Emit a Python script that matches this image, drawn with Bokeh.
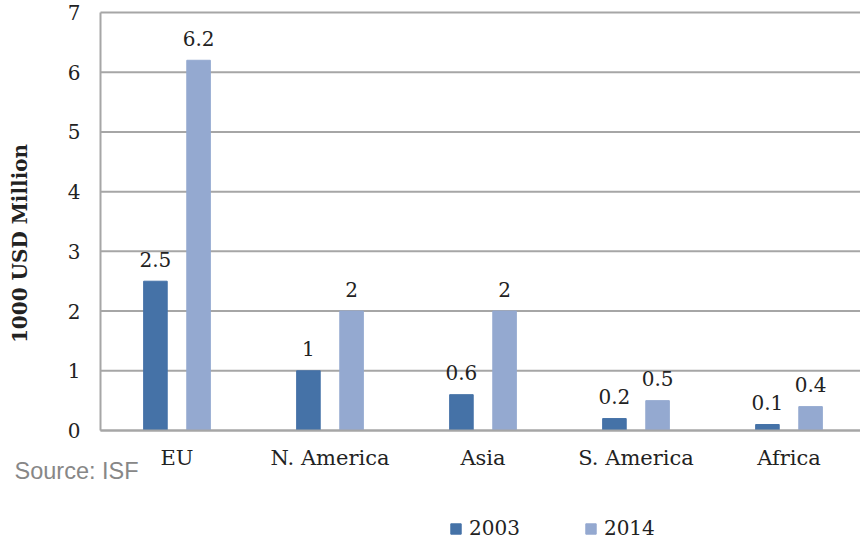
import math
from bokeh.plotting import figure
from bokeh.models import (Range1d, FixedTicker, Legend, LegendItem, Label,
                          ColumnDataSource, LinearAxis)
from bokeh.transform import dodge
from bokeh.embed import file_html
from bokeh.resources import INLINE
from bokeh.core.properties import value

categories = ["EU", "N. America", "Asia", "S. America", "Africa"]
series_names = ["2003", "2014"]
values_2003 = [2.5, 1, 0.6, 0.2, 0.1]
values_2014 = [6.2, 2, 2, 0.5, 0.4]
colors = ["#4572A7", "#94A9D0"]
y_ticks = [0, 1, 2, 3, 4, 5, 6, 7]
y_title = "1000 USD Million"
source_note = "Source: ISF"

SERIF = "DejaVu Serif"
FS = "20px"
TXT = "#222222"
GRID = "#A6A6A6"

W, H = 860, 541
PX_X = 153.0            # pixels per category
PX_Y = 418.0 / 7        # pixels per unit on y
X_END = (W - 100) / PX_X

xs = [i + 0.5 for i in range(len(categories))]
src = ColumnDataSource(dict(
    x=xs, v2003=values_2003, v2014=values_2014,
    l2003=[f"{v:g}" for v in values_2003],
    l2014=[f"{v:g}" for v in values_2014],
))

p = figure(width=W, height=H, output_backend="svg", toolbar_location=None,
           x_axis_type=None, y_axis_type=None,
           x_range=Range1d(-100 / PX_X, X_END),
           y_range=Range1d(-(H - 430) / PX_Y, 7 + 12 / PX_Y),
           min_border=0)
p.outline_line_color = None
p.background_fill_color = "white"
p.border_fill_color = "white"
p.grid.visible = False

# horizontal grid lines, limited to the plot area (x from 0 to the right edge)
p.segment(x0=0, x1=X_END, y0=y_ticks, y1=y_ticks,
          line_color=GRID, line_width=2)

off = 0.141
bw = 0.154
r1 = p.vbar(x=dodge("x", -off), top="v2003", width=bw, source=src, color=colors[0])
r2 = p.vbar(x=dodge("x", off), top="v2014", width=bw, source=src, color=colors[1])

p.text(x=dodge("x", -off), y="v2003", text="l2003", source=src,
       text_align="center", text_baseline="alphabetic", y_offset=-22,
       text_font=value(SERIF), text_font_size=FS, text_color=TXT)
p.text(x=dodge("x", off), y="v2014", text="l2014", source=src,
       text_align="center", text_baseline="alphabetic", y_offset=-22,
       text_font=value(SERIF), text_font_size=FS, text_color=TXT)

# axes fixed at the data origin
yaxis = LinearAxis(fixed_location=0, bounds=(0, 7), ticker=FixedTicker(ticks=y_ticks))
xaxis = LinearAxis(fixed_location=0, bounds=(0, X_END), ticker=FixedTicker(ticks=xs),
                   major_label_overrides={x: c for x, c in zip(xs, categories)})
for ax in (xaxis, yaxis):
    ax.major_tick_in = 0
    ax.major_tick_out = 0
    ax.minor_tick_in = 0
    ax.minor_tick_out = 0
    ax.major_tick_line_color = None
    ax.minor_tick_line_color = None
    ax.axis_line_color = GRID
    ax.axis_line_width = 2
    ax.major_label_text_font = SERIF
    ax.major_label_text_font_size = FS
    ax.major_label_text_color = TXT
xaxis.major_label_text_font_size = "21px"
xaxis.major_label_standoff = 15
yaxis.major_label_standoff = 20
p.add_layout(yaxis, "left")
p.add_layout(xaxis, "below")

p.add_layout(Label(x=19, y=H - 243, x_units="screen", y_units="screen",
                   text=y_title, angle=math.pi / 2, text_align="center",
                   text_baseline="middle", text_font=SERIF,
                   text_font_style="bold", text_font_size="20px", text_color=TXT))

legend = Legend(items=[LegendItem(label=series_names[0], renderers=[r1]),
                       LegendItem(label=series_names[1], renderers=[r2])],
                orientation="horizontal", location=(449, 1),
                glyph_width=13, glyph_height=13, label_standoff=7, spacing=64,
                padding=0, margin=0, border_line_color=None,
                background_fill_alpha=0,
                label_text_font=SERIF, label_text_font_size=FS,
                label_text_color=TXT)
p.add_layout(legend, "center")

p.add_layout(Label(x=14, y=H - 470, x_units="screen", y_units="screen",
                   text=source_note, text_font="Liberation Sans",
                   text_font_size="23.5px", text_color="#878787",
                   text_baseline="middle"))

open("out.html", "w").write(file_html(p, INLINE))
